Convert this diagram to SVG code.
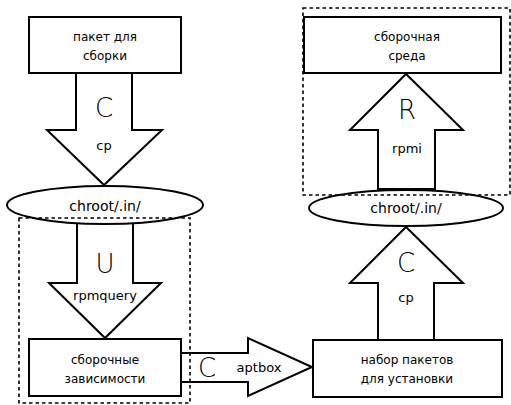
<svg xmlns="http://www.w3.org/2000/svg" width="511" height="405" viewBox="0 0 511 405">
<style>
.box{fill:#fff;stroke:#000;stroke-width:2}
.arr{fill:#fff;stroke:#000;stroke-width:2;stroke-linejoin:miter}
.ell{fill:#fff;stroke:#000;stroke-width:2}
.grp{fill:none;stroke:#000;stroke-width:1.6;stroke-dasharray:3.5,3}
.t{font-family:"DejaVu Sans",sans-serif;font-size:12px;text-anchor:middle;fill:#000}
.big{font-family:"DejaVu Sans",sans-serif;font-size:26px;font-weight:200;text-anchor:middle;fill:#000}
.lbl{font-family:"DejaVu Sans",sans-serif;font-size:13px;text-anchor:middle;fill:#000}
.el{font-family:"DejaVu Sans",sans-serif;font-size:14px;text-anchor:middle;fill:#000}
</style>
<rect width="511" height="405" fill="#fff"/>
<g id="connectors">
<g id="arrow-cp1">
<polygon class="arr" points="76,73 132,73 132,130 162,130 104,185 47,130 76,130"/>
<text class="big" x="104" y="117">C</text>
<text class="lbl" x="104" y="150">cp</text>
</g>
<g id="arrow-rpmquery">
<polygon class="arr" points="77,222 133,222 133,283 161,283 105,338 49,283 77,283"/>
<text class="big" x="105" y="273">U</text>
<text class="lbl" x="105" y="300">rpmquery</text>
</g>
<g id="arrow-aptbox">
<polygon class="arr" points="181,353 248,353 248,338 312,367 248,396 248,382 181,382"/>
<text class="big" x="207" y="377">C</text>
<text class="lbl" x="259" y="372">aptbox</text>
</g>
<g id="arrow-cp2">
<polygon class="arr" points="378,340 434,340 434,283 463,283 406,227 350,283 378,283"/>
<text class="big" x="406" y="272">C</text>
<text class="lbl" x="406" y="302">cp</text>
</g>
<g id="arrow-rpmi">
<polygon class="arr" points="378,189 435,189 435,130 463,130 406,74 350,130 378,130"/>
<text class="big" x="407" y="119">R</text>
<text class="lbl" x="407" y="153">rpmi</text>
</g>
</g>
<g id="node-package">
<rect class="box" x="29" y="17" width="152" height="56"/>
<text class="t" x="105" y="41">пакет для</text>
<text class="t" x="105" y="60">сборки</text>
</g>
<g id="node-chroot1">
<ellipse class="ell" cx="105" cy="205" rx="98" ry="19"/>
<text class="el" x="105" y="211">chroot/.in/</text>
</g>
<g id="node-deps">
<rect class="box" x="29" y="339" width="152" height="57"/>
<text class="t" x="105" y="364">сборочные</text>
<text class="t" x="105" y="383">зависимости</text>
</g>
<g id="node-set">
<rect class="box" x="313" y="340" width="189" height="57"/>
<text class="t" x="407" y="364">набор пакетов</text>
<text class="t" x="407" y="383">для установки</text>
</g>
<g id="node-chroot2">
<ellipse class="ell" cx="406" cy="208" rx="97" ry="18"/>
<text class="el" x="406" y="213">chroot/.in/</text>
</g>
<g id="node-env">
<rect class="box" x="304" y="17" width="197" height="56"/>
<text class="t" x="407" y="41">сборочная</text>
<text class="t" x="407" y="60">среда</text>
</g>
<g id="group-deps">
<rect class="grp" x="19" y="218" width="171" height="185"/>
</g>
<g id="group-env">
<rect class="grp" x="303" y="8" width="207" height="187"/>
</g>
</svg>
